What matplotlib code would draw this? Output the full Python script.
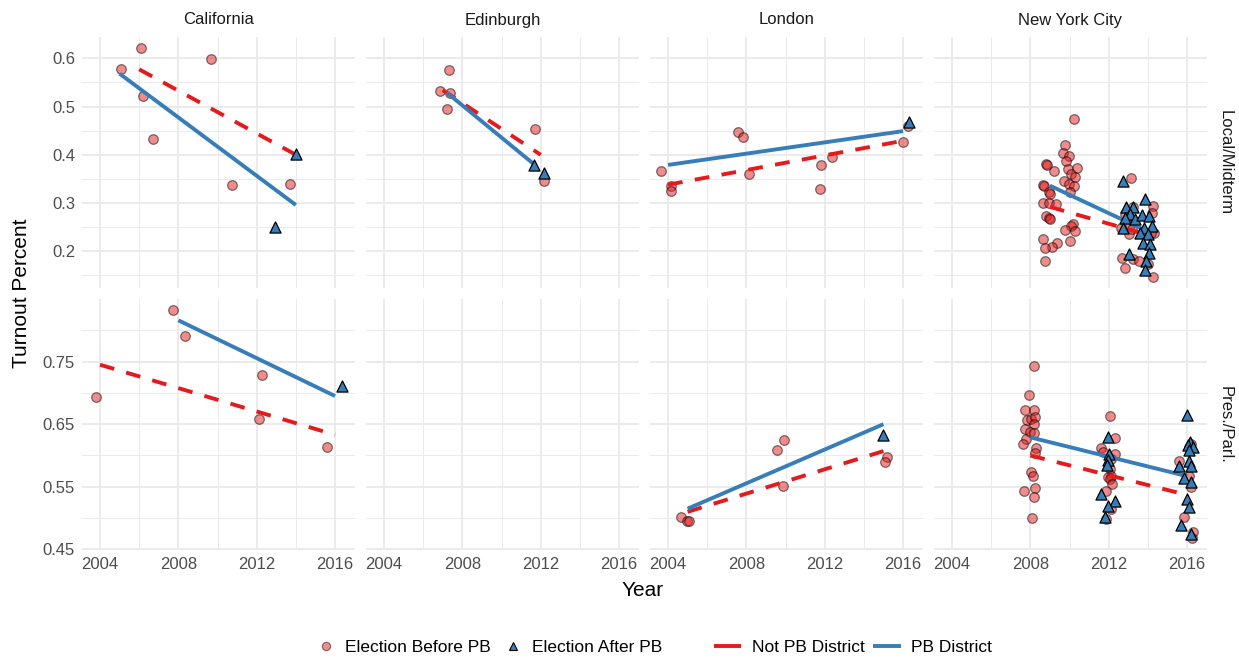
import matplotlib
matplotlib.use('Agg')
import matplotlib.pyplot as plt
from matplotlib.lines import Line2D

plt.rcParams['font.family'] = ['Liberation Sans', 'DejaVu Sans']

# ---------------- data ----------------
cities = ['California', 'Edinburgh', 'London', 'New York City']
election_types = ['Local/Midterm', 'Pres./Parl.']
x_ticks = [2004, 2008, 2012, 2016]
y_ticks_local = [0.2, 0.3, 0.4, 0.5, 0.6]
y_ticks_pres = [0.45, 0.55, 0.65, 0.75]
legend_shape_labels = ['Election Before PB', 'Election After PB']
legend_line_labels = ['Not PB District', 'PB District']

# California, Local/Midterm
ca_loc_before_x = [2005.06, 2006.10, 2006.20, 2006.70, 2009.66, 2010.73, 2013.68]
ca_loc_before_y = [0.577, 0.621, 0.522, 0.433, 0.599, 0.338, 0.340]
ca_loc_after_x = [2014.00, 2012.96]
ca_loc_after_y = [0.401, 0.251]
ca_loc_notpb_x = [2006.0, 2014.0]
ca_loc_notpb_y = [0.577, 0.400]
ca_loc_pb_x = [2005.0, 2014.0]
ca_loc_pb_y = [0.568, 0.296]

# Edinburgh, Local/Midterm
ed_loc_before_x = [2007.30, 2006.84, 2007.35, 2007.20, 2011.70, 2012.15]
ed_loc_before_y = [0.575, 0.533, 0.527, 0.495, 0.453, 0.346]
ed_loc_after_x = [2011.64, 2012.19]
ed_loc_after_y = [0.378, 0.363]
ed_loc_notpb_x = [2007.0, 2012.0]
ed_loc_notpb_y = [0.534, 0.400]
ed_loc_pb_x = [2007.2, 2011.7]
ed_loc_pb_y = [0.529, 0.379]

# London, Local/Midterm
lo_loc_before_x = [2003.66, 2004.17, 2004.17, 2007.59, 2007.83, 2008.15,
                   2011.79, 2011.76, 2012.36, 2016.01, 2016.24]
lo_loc_before_y = [0.366, 0.335, 0.324, 0.447, 0.436, 0.361,
                   0.378, 0.330, 0.396, 0.427, 0.460]
lo_loc_after_x = [2016.32]
lo_loc_after_y = [0.467]
lo_loc_notpb_x = [2004.0, 2016.0]
lo_loc_notpb_y = [0.338, 0.429]
lo_loc_pb_x = [2004.0, 2016.0]
lo_loc_pb_y = [0.379, 0.449]

# New York City, Local/Midterm
ny_loc_before_x = [2010.21, 2009.77, 2009.65, 2009.96, 2009.82, 2008.80, 2008.84, 2009.22,
                   2009.90, 2010.37, 2010.08, 2010.30, 2009.74, 2009.99, 2010.25, 2010.04,
                   2008.66, 2008.70, 2008.97, 2009.00, 2008.66, 2008.97, 2009.30, 2008.80,
                   2008.93, 2009.00, 2010.17, 2010.10, 2009.79, 2010.29, 2008.63, 2009.36,
                   2009.10, 2008.77, 2010.03, 2008.76,
                   2013.13, 2014.27, 2014.22, 2012.85, 2013.23, 2013.05, 2013.09, 2012.63,
                   2013.05, 2013.19, 2014.30, 2014.15, 2012.68, 2013.23, 2012.85, 2013.57,
                   2014.28, 2013.99]
ny_loc_before_y = [0.474, 0.420, 0.403, 0.398, 0.387, 0.381, 0.378, 0.367,
                   0.371, 0.372, 0.360, 0.354, 0.346, 0.339, 0.336, 0.322,
                   0.338, 0.335, 0.323, 0.318, 0.301, 0.301, 0.298, 0.273,
                   0.270, 0.267, 0.256, 0.252, 0.245, 0.242, 0.225, 0.218,
                   0.208, 0.207, 0.222, 0.180,
                   0.352, 0.293, 0.280, 0.278, 0.291, 0.270, 0.255, 0.249,
                   0.236, 0.246, 0.237, 0.238, 0.187, 0.184, 0.166, 0.180,
                   0.147, 0.173]
ny_loc_after_x = [2012.75, 2013.87, 2012.89, 2013.26, 2013.09, 2012.82, 2013.36, 2013.70,
                  2014.05, 2014.22, 2012.72, 2013.82, 2013.60, 2013.99, 2013.74, 2014.11,
                  2014.05, 2013.05, 2013.91, 2013.86]
ny_loc_after_y = [0.346, 0.308, 0.291, 0.292, 0.277, 0.270, 0.267, 0.276,
                  0.273, 0.253, 0.249, 0.249, 0.237, 0.236, 0.218, 0.215,
                  0.197, 0.195, 0.179, 0.162]
ny_loc_notpb_x = [2009.0, 2014.0]
ny_loc_notpb_y = [0.292, 0.234]
ny_loc_pb_x = [2009.0, 2014.0]
ny_loc_pb_y = [0.336, 0.241]

# California, Pres./Parl.
ca_pres_before_x = [2003.78, 2007.72, 2008.34, 2012.27, 2012.10, 2015.60]
ca_pres_before_y = [0.693, 0.832, 0.791, 0.728, 0.658, 0.614]
ca_pres_after_x = [2016.38]
ca_pres_after_y = [0.711]
ca_pres_notpb_x = [2004.0, 2016.0]
ca_pres_notpb_y = [0.745, 0.633]
ca_pres_pb_x = [2008.0, 2016.0]
ca_pres_pb_y = [0.816, 0.695]

# Edinburgh, Pres./Parl. (no data)
ed_pres_before_x, ed_pres_before_y = [], []
ed_pres_after_x, ed_pres_after_y = [], []
ed_pres_notpb_x, ed_pres_notpb_y = [], []
ed_pres_pb_x, ed_pres_pb_y = [], []

# London, Pres./Parl.
lo_pres_before_x = [2004.65, 2004.96, 2005.06, 2009.57, 2009.90, 2009.88, 2015.16, 2015.09]
lo_pres_before_y = [0.502, 0.496, 0.495, 0.609, 0.624, 0.552, 0.598, 0.589]
lo_pres_after_x = [2014.99]
lo_pres_after_y = [0.632]
lo_pres_notpb_x = [2005.0, 2015.0]
lo_pres_notpb_y = [0.510, 0.607]
lo_pres_pb_x = [2005.0, 2015.0]
lo_pres_pb_y = [0.515, 0.650]

# New York City, Pres./Parl.
ny_pres_before_x = [2008.20, 2007.95, 2007.74, 2008.20, 2007.85, 2008.05, 2008.25, 2008.17,
                    2007.71, 2007.97, 2008.19, 2007.80, 2007.63, 2008.31, 2008.22, 2008.05,
                    2008.14, 2008.22, 2007.66, 2008.19, 2008.07,
                    2012.08, 2012.34, 2011.61, 2011.69, 2012.34, 2012.13, 2012.05, 2012.13,
                    2011.96, 2012.05, 2012.17, 2011.88, 2012.13, 2011.88,
                    2015.58, 2016.12, 2016.21, 2016.12, 2016.18, 2015.84, 2016.30, 2016.25]
ny_pres_before_y = [0.743, 0.697, 0.673, 0.673, 0.657, 0.659, 0.661, 0.651,
                    0.643, 0.637, 0.636, 0.627, 0.619, 0.612, 0.604, 0.574,
                    0.568, 0.548, 0.543, 0.534, 0.500,
                    0.663, 0.628, 0.612, 0.606, 0.603, 0.595, 0.579, 0.568,
                    0.566, 0.563, 0.554, 0.543, 0.515, 0.498,
                    0.591, 0.613, 0.619, 0.567, 0.549, 0.501, 0.478, 0.468]
ny_pres_after_x = [2011.96, 2012.01, 2011.96, 2011.93, 2011.62, 2012.30, 2011.96, 2011.82,
                   2016.00, 2016.17, 2016.03, 2016.28, 2016.12, 2016.12, 2016.21, 2015.61,
                   2015.87, 2016.18, 2016.00, 2016.08, 2015.69, 2016.21]
ny_pres_after_y = [0.629, 0.603, 0.592, 0.584, 0.539, 0.527, 0.519, 0.502,
                   0.664, 0.622, 0.616, 0.614, 0.609, 0.591, 0.583, 0.583,
                   0.564, 0.558, 0.530, 0.517, 0.489, 0.474]
ny_pres_notpb_x = [2008.0, 2016.0]
ny_pres_notpb_y = [0.600, 0.537]
ny_pres_pb_x = [2008.0, 2016.0]
ny_pres_pb_y = [0.629, 0.567]

# ---------------- assemble ----------------
panels = {
    (0, 0): (ca_loc_before_x, ca_loc_before_y, ca_loc_after_x, ca_loc_after_y,
             ca_loc_notpb_x, ca_loc_notpb_y, ca_loc_pb_x, ca_loc_pb_y),
    (0, 1): (ed_loc_before_x, ed_loc_before_y, ed_loc_after_x, ed_loc_after_y,
             ed_loc_notpb_x, ed_loc_notpb_y, ed_loc_pb_x, ed_loc_pb_y),
    (0, 2): (lo_loc_before_x, lo_loc_before_y, lo_loc_after_x, lo_loc_after_y,
             lo_loc_notpb_x, lo_loc_notpb_y, lo_loc_pb_x, lo_loc_pb_y),
    (0, 3): (ny_loc_before_x, ny_loc_before_y, ny_loc_after_x, ny_loc_after_y,
             ny_loc_notpb_x, ny_loc_notpb_y, ny_loc_pb_x, ny_loc_pb_y),
    (1, 0): (ca_pres_before_x, ca_pres_before_y, ca_pres_after_x, ca_pres_after_y,
             ca_pres_notpb_x, ca_pres_notpb_y, ca_pres_pb_x, ca_pres_pb_y),
    (1, 1): (ed_pres_before_x, ed_pres_before_y, ed_pres_after_x, ed_pres_after_y,
             ed_pres_notpb_x, ed_pres_notpb_y, ed_pres_pb_x, ed_pres_pb_y),
    (1, 2): (lo_pres_before_x, lo_pres_before_y, lo_pres_after_x, lo_pres_after_y,
             lo_pres_notpb_x, lo_pres_notpb_y, lo_pres_pb_x, lo_pres_pb_y),
    (1, 3): (ny_pres_before_x, ny_pres_before_y, ny_pres_after_x, ny_pres_after_y,
             ny_pres_notpb_x, ny_pres_notpb_y, ny_pres_pb_x, ny_pres_pb_y),
}

RED = '#E41A1C'
BLUE = '#377EB8'
GRID = '#EBEBEB'

W, H = 1239, 659
fig = plt.figure(figsize=(W / 100, H / 100), dpi=100)
fig.patch.set_facecolor('white')

col_left = [82, 366, 650, 934]
panel_w = 273
row_top = [37, 299]
panel_h = 251
xlim = (2003.08, 2017.02)
ylims = [(0.124, 0.644), (0.449, 0.850)]
yticks = [y_ticks_local, y_ticks_pres]
yminor = [[0.15, 0.25, 0.35, 0.45, 0.55], [0.5, 0.6, 0.7, 0.8]]

for r in range(2):
    for c in range(4):
        ax = fig.add_axes([col_left[c] / W, 1 - (row_top[r] + panel_h) / H,
                           panel_w / W, panel_h / H])
        ax.set_facecolor('white')
        for s in ax.spines.values():
            s.set_visible(False)
        ax.set_xlim(*xlim)
        ax.set_ylim(*ylims[r])
        ax.set_xticks(x_ticks)
        ax.set_xticks([2006, 2010, 2014], minor=True)
        ax.set_yticks(yticks[r])
        ax.set_yticks(yminor[r], minor=True)
        ax.grid(which='major', color=GRID, lw=1.4, zorder=0)
        ax.grid(which='minor', color=GRID, lw=0.7, zorder=0)
        ax.set_axisbelow(True)
        ax.tick_params(which='both', length=0, labelsize=12, colors='#4D4D4D', pad=5)
        if c != 0:
            ax.set_yticklabels([])
        else:
            ax.set_yticklabels([f'{v:g}' for v in yticks[r]])
        if r != 1:
            ax.set_xticklabels([])
        bx, by, axx, ayy, nx, ny, px, py = panels[(r, c)]
        ax.scatter(bx, by, s=48, marker='o', facecolor=(0.894, 0.102, 0.110, 0.5),
                   edgecolor=(0, 0, 0, 0.5), linewidths=0.9, zorder=2)
        ax.plot(nx, ny, color=RED, lw=2.8, dashes=(3.8, 3.2), solid_capstyle='butt',
                dash_capstyle='butt', zorder=3)
        ax.plot(px, py, color=BLUE, lw=2.8, solid_capstyle='butt', zorder=3)
        ax.scatter(axx, ayy, s=64, marker='^', facecolor=BLUE, edgecolor='black',
                   linewidths=0.9, zorder=4)
        if r == 0:
            ax.text(0.5, 1 + 17 / panel_h, cities[c], transform=ax.transAxes,
                    ha='center', va='center', fontsize=12, color='#1A1A1A')
        if c == 3:
            ax.text(1 + 18 / panel_w, 0.5, election_types[r], transform=ax.transAxes,
                    ha='center', va='center', rotation=-90, fontsize=12, color='#1A1A1A')

fig.text(643 / W, 1 - 590 / H, 'Year', ha='center', va='center', fontsize=15)
fig.text(22 / W, 1 - 293 / H, 'Turnout Percent', ha='center', va='center',
         rotation=90, fontsize=15)

shape_handles = [
    Line2D([], [], ls='none', marker='o', markersize=6,
           markerfacecolor=(0.894, 0.102, 0.110, 0.5), markeredgecolor=(0, 0, 0, 0.5),
           markeredgewidth=0.8),
    Line2D([], [], ls='none', marker='^', markersize=6,
           markerfacecolor=BLUE, markeredgecolor='black', markeredgewidth=0.8),
]
line_handles = [
    Line2D([], [], color=RED, lw=2.8, solid_capstyle='butt'),
    Line2D([], [], color=BLUE, lw=2.8, solid_capstyle='butt'),
]
fig.legend(shape_handles, legend_shape_labels, loc='center',
           bbox_to_anchor=(490 / W, 1 - 647 / H), ncol=2, frameon=False,
           fontsize=12.5, handlelength=1.0, handletextpad=0.6, columnspacing=0.8)
fig.legend(line_handles, legend_line_labels, loc='center',
           bbox_to_anchor=(853 / W, 1 - 647 / H), ncol=2, frameon=False,
           fontsize=12.5, handlelength=1.6, handletextpad=0.6, columnspacing=0.5)

fig.savefig('out.png', dpi=100, facecolor='white')
